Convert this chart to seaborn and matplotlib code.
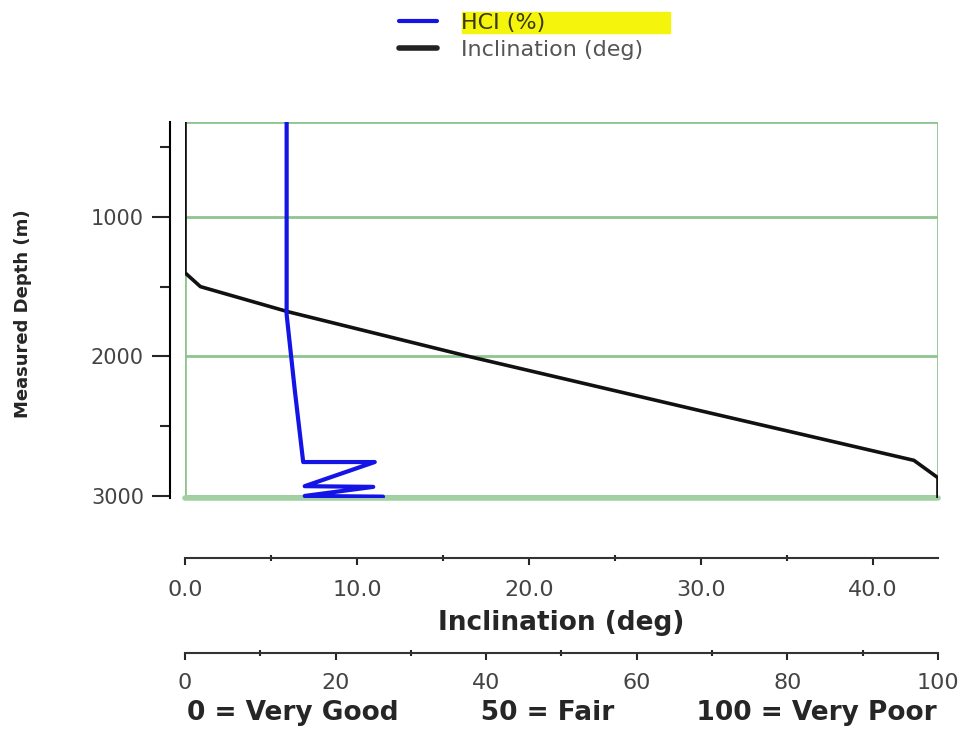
import seaborn as sns
import matplotlib.pyplot as plt
from matplotlib.patches import Rectangle
from matplotlib.lines import Line2D
from matplotlib.ticker import MultipleLocator, FormatStrFormatter

# Inclination survey: angle (deg) against measured depth (m)
incl_deg = [0.0, 0.0, 0.9, 6.0, 16.5, 30.0, 42.4, 43.8, 43.8]
incl_md = [320, 1400, 1500, 1680, 2000, 2390, 2745, 2870, 3015]

# Hole condition index (%) against measured depth (m)
hci_pct = [13.5, 13.5, 14.6, 15.7, 25.2, 15.9, 25.0, 15.9, 26.3]
hci_md = [320, 1700, 2250, 2757, 2757, 2930, 2935, 3000, 3005]

depth_ticks = [1000, 2000, 3000]

green = "#8fc48f"
PX = 0.72  # points per pixel at dpi 100

sns.set_style("white")
plt.rcParams["font.family"] = ["DejaVu Sans"]

fig = plt.figure(figsize=(9.71, 7.31), dpi=100)
ax = fig.add_axes([0.1905, 0.3187, 0.7755, 0.5144])

# Inclination on main axes
sns.lineplot(x=incl_deg, y=incl_md, ax=ax, sort=False, estimator=None,
             color="#111111", linewidth=2.6, legend=False)
ax.set_xlim(0, 43.8)
ax.set_ylim(3015, 320)

# HCI on a twin x axis (0-100 %)
ax2 = ax.twiny()
sns.lineplot(x=hci_pct, y=hci_md, ax=ax2, sort=False, estimator=None,
             color="#1414e6", linewidth=3, legend=False)
ax2.set_xlim(0, 100)
ax2.set_ylim(3015, 320)

# Plot frame and gridlines in green
for s in ax.spines.values():
    s.set_visible(False)
for s in ax2.spines.values():
    s.set_visible(False)
ax.add_patch(Rectangle((0, 0), 1, 1, transform=ax.transAxes, fill=False,
                       edgecolor=green, linewidth=2, zorder=0.5))
ax.plot([0, 1], [0, 0], transform=ax.transAxes, color="#a3d0a3",
        linewidth=4, zorder=0.6, clip_on=False)
ax.set_yticks(depth_ticks)
ax.yaxis.set_minor_locator(MultipleLocator(500))
ax.yaxis.grid(True, which="major", color=green, linewidth=2)
ax.xaxis.grid(False)
ax.set_axisbelow(True)

# Depth axis: detached black spine on the left
ax.spines["left"].set_visible(True)
ax.spines["left"].set_position(("outward", 15 * PX))
ax.spines["left"].set_color("black")
ax.spines["left"].set_linewidth(1.5)
ax.tick_params(axis="y", which="major", left=True, direction="out",
               length=18 * PX, width=1.5, labelsize=15, labelcolor="#444444",
               pad=8 * PX)
ax.tick_params(axis="y", which="minor", left=True, direction="out",
               length=10 * PX, width=1.5)
ax.set_ylabel("Measured Depth (m)", fontsize=13, fontweight="bold")
ax.yaxis.set_label_coords(-0.2025, 0.49)

# Inclination scale below the plot
ax.spines["bottom"].set_visible(True)
ax.spines["bottom"].set_position(("outward", 60 * PX))
ax.spines["bottom"].set_color("#333333")
ax.spines["bottom"].set_linewidth(1.5)
ax.xaxis.set_major_locator(MultipleLocator(10))
ax.xaxis.set_minor_locator(MultipleLocator(5))
ax.xaxis.set_major_formatter(FormatStrFormatter("%.1f"))
ax.tick_params(axis="x", which="major", bottom=True, direction="out",
               length=7 * PX, width=1.5, labelsize=16, labelcolor="#444444",
               pad=15 * PX)
ax.tick_params(axis="x", which="minor", bottom=True, direction="inout",
               length=6 * PX, width=1.5)
ax.set_xlabel("Inclination (deg)", fontsize=19, fontweight="bold", labelpad=7)

# HCI scale further below
ax2.xaxis.set_ticks_position("bottom")
ax2.xaxis.set_label_position("bottom")
ax2.spines["bottom"].set_visible(True)
ax2.spines["bottom"].set_position(("outward", 155 * PX))
ax2.spines["bottom"].set_color("#333333")
ax2.spines["bottom"].set_linewidth(1.5)
ax2.xaxis.set_major_locator(MultipleLocator(20))
ax2.xaxis.set_minor_locator(MultipleLocator(10))
ax2.tick_params(axis="x", which="major", bottom=True, top=False,
                direction="out", length=7 * PX, width=1.5, labelsize=16,
                labelcolor="#444444", pad=13 * PX)
ax2.tick_params(axis="x", which="minor", bottom=True, top=False,
                direction="inout", length=6 * PX, width=1.5)
ax2.tick_params(axis="y", left=False, right=False, labelright=False)
gap = " " * 9
ax2.set_xlabel(f"0 = Very Good{gap}50 = Fair{gap}100 = Very Poor",
               fontsize=19, fontweight="bold", labelpad=5)

# Legend at the top with highlighted HCI entry
fig.patches.append(Rectangle((462 / 971, 1 - 33 / 731), 208 / 971, 21 / 731,
                             transform=fig.transFigure, color="#f4f40c",
                             zorder=0))
handles = [Line2D([], [], color="#1414e6", linewidth=3),
           Line2D([], [], color="#222222", linewidth=4)]
leg = fig.legend(handles, ["HCI (%)", "Inclination (deg)"], loc="upper left",
                 bbox_to_anchor=(399 / 971, 1 - 13 / 731), frameon=False,
                 fontsize=16, handlelength=1.7, handletextpad=1.1,
                 labelspacing=0.3, borderpad=0, borderaxespad=0)
leg.get_texts()[0].set_color("#3a3a10")
leg.get_texts()[1].set_color("#555555")

fig.savefig("out.png", dpi=100)
